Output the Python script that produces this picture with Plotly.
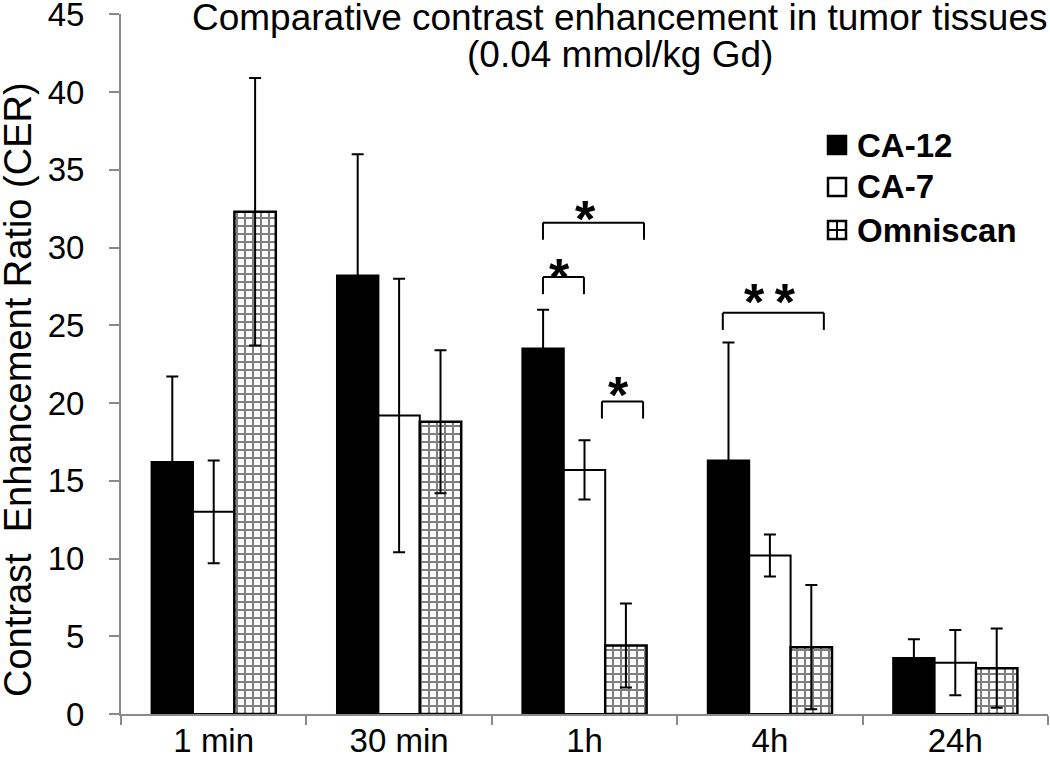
import plotly.graph_objects as go

categories = ["1 min", "30 min", "1h", "4h", "24h"]
ca12 = [16.2, 28.2, 23.5, 16.3, 3.6]
ca12_err = [5.5, 7.8, 2.5, 7.6, 1.2]
ca7 = [13.0, 19.2, 15.7, 10.2, 3.3]
ca7_err = [3.3, 8.8, 1.9, 1.35, 2.1]
omni = [32.3, 18.8, 4.4, 4.3, 2.95]
omni_err = [8.6, 4.6, 2.7, 4.0, 2.55]
y_ticks = [0, 5, 10, 15, 20, 25, 30, 35, 40, 45]

# significance brackets: (x_left, x_right, y_top, y_leg, label, x_label, y_label)
brackets = [
    (1.776, 2.321, 31.6, 30.5, "*", 2.008, 32.6),
    (1.776, 1.997, 28.1, 27.0, "*", 1.867, 28.9),
    (2.094, 2.316, 20.1, 19.0, "*", 2.186, 21.3),
    (2.746, 3.291, 25.8, 24.7, "*\u2009*", 3.0, 27.3),
]

FONT = "Liberation Sans, Arial, sans-serif"
W, H = 1050, 768
L, R, T, B = 121, 1048, 14, 714  # plot area in pixels


def px(xp):
    return (xp - L) / (R - L)


def py(yp):
    return (B - yp) / (B - T)


err_style = dict(type="data", visible=True, color="black", thickness=2, width=6)
omni_pattern = dict(shape="+", fgcolor="black", bgcolor="white", size=8, solidity=0.45)

fig = go.Figure()
fig.add_trace(go.Bar(
    name="CA-12", x=categories, y=ca12,
    error_y=dict(array=ca12_err, **err_style),
    marker=dict(color="black", line=dict(color="black", width=2)),
))
fig.add_trace(go.Bar(
    name="CA-7", x=categories, y=ca7,
    error_y=dict(array=ca7_err, **err_style),
    marker=dict(color="white", line=dict(color="black", width=2)),
))
fig.add_trace(go.Bar(
    name="Omniscan", x=categories, y=omni,
    error_y=dict(array=omni_err, **err_style),
    marker=dict(color="white", line=dict(color="black", width=2.5), pattern=omni_pattern),
))

for xl, xr, yt, yl, lab, xlab, ylab in brackets:
    for (x0, y0, x1, y1) in [(xl, yl, xl, yt), (xl, yt, xr, yt), (xr, yt, xr, yl)]:
        fig.add_shape(type="line", xref="x", yref="y", x0=x0, y0=y0, x1=x1, y1=y1,
                      line=dict(color="black", width=2))
    fig.add_annotation(x=xlab, y=ylab, xref="x", yref="y", text=f"<b>{lab}</b>",
                       showarrow=False, yanchor="middle", yshift=-12,
                       font=dict(family=FONT, size=52, color="black"))

# legend drawn as swatches + labels
legend_names = ["CA-12", "CA-7", "Omniscan"]
legend_y = [145, 187, 230]
sx0, sx1 = 828, 846
for name, yc in zip(legend_names, legend_y):
    fill = "black" if name == "CA-12" else "white"
    fig.add_shape(type="rect", xref="paper", yref="paper",
                  x0=px(sx0), x1=px(sx1), y0=py(yc + 9), y1=py(yc - 9),
                  fillcolor=fill, line=dict(color="black", width=2.5))
    if name == "Omniscan":
        xm = (sx0 + sx1) / 2
        fig.add_shape(type="line", xref="paper", yref="paper",
                      x0=px(xm), x1=px(xm), y0=py(yc + 9), y1=py(yc - 9),
                      line=dict(color="black", width=2))
        fig.add_shape(type="line", xref="paper", yref="paper",
                      x0=px(sx0), x1=px(sx1), y0=py(yc), y1=py(yc),
                      line=dict(color="black", width=2))
    fig.add_annotation(text=f"<b>{name}</b>", xref="paper", yref="paper",
                       x=px(855), y=py(yc), xanchor="left", yanchor="middle",
                       showarrow=False, font=dict(family=FONT, size=33, color="black"))

fig.add_annotation(text="Comparative contrast enhancement in tumor tissues",
                   xref="paper", yref="paper", x=px(620), y=py(17),
                   xanchor="center", yanchor="middle", showarrow=False,
                   font=dict(family=FONT, size=37, color="black"))
fig.add_annotation(text="(0.04 mmol/kg Gd)",
                   xref="paper", yref="paper", x=px(620), y=py(54),
                   xanchor="center", yanchor="middle", showarrow=False,
                   font=dict(family=FONT, size=37, color="black"))
fig.add_annotation(text="Contrast  Enhancement Ratio (CER)",
                   xref="paper", yref="paper", x=px(18), y=py(390),
                   xanchor="center", yanchor="middle", textangle=-90, showarrow=False,
                   font=dict(family=FONT, size=38, color="black"))

fig.update_layout(
    width=W, height=H,
    margin=dict(l=L, r=W - R, t=T, b=H - B, autoexpand=False),
    paper_bgcolor="white", plot_bgcolor="white",
    barmode="group", bargap=0.33, bargroupgap=0,
    font=dict(family=FONT, size=33, color="black"),
    showlegend=False,
)
fig.update_xaxes(
    automargin=False,
    showline=True, linecolor="#8a8a8a", linewidth=2,
    ticks="outside", tickson="boundaries", ticklen=9, tickcolor="#8a8a8a", tickwidth=2,
    ticklabelstandoff=-4,
    showgrid=False, range=[-0.5, 4.5], ticklabeloverflow="allow",
    tickfont=dict(family=FONT, size=33, color="black"),
)
fig.update_yaxes(
    automargin=False,
    range=[0, 45.02], tickvals=y_ticks, ticktext=[str(v) for v in y_ticks],
    showline=True, linecolor="#8a8a8a", linewidth=2,
    ticks="outside", ticklen=10, tickcolor="#8a8a8a", tickwidth=2,
    ticklabelstandoff=18, ticklabeloverflow="allow",
    showgrid=False, zeroline=False,
    tickfont=dict(family=FONT, size=33, color="black"),
)

fig.write_html("out.html", config={"displayModeBar": False},
               post_script="document.body.style.margin='0';")
